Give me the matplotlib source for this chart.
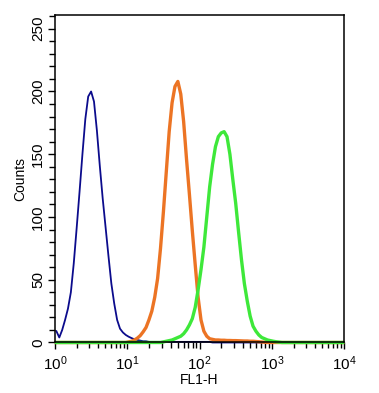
import numpy as np
import matplotlib
matplotlib.use("Agg")
import matplotlib.pyplot as plt
from matplotlib.ticker import LogLocator, MultipleLocator, NullFormatter

plt.rcParams['font.family'] = ['Liberation Sans', 'DejaVu Sans']

# histogram channels: 100 bins over 4 decades (10^0 .. 10^4), 0.04 decade each
n_bins = 100
bin_width = 0.04  # decades

# counts, each series starts at a given bin index
blue_start = 0
blue_counts = [9, 4, 10, 18, 27, 40, 63, 91, 120, 150, 178, 196, 200, 192, 169,
               141, 115, 92, 69, 47, 31, 18, 11, 8, 6, 4.6, 3.5, 2.5, 2, 1.5,
               1, 1, 0.5, 0.5, 0.5, 0.5, 0.5, 0.5, 0.5, 0.5, 0.5, 0.5, 0.5,
               0.5, 0.5, 0.5, 0.5, 0.5, 0.5, 0.5, 0.5, 0.5, 0.5, 0.5]

orange_start = 25
orange_counts = [0.5, 1, 2, 3.5, 5.5, 8.5, 12, 18, 25, 36, 51, 75, 104, 136, 168,
                 191, 204, 208, 198, 176, 146, 118, 89, 62, 36, 18, 9, 5, 3,
                 2.5, 2, 2, 1.8, 1.8, 1.6, 1.6, 1.5, 1.5, 1.4, 1.3, 1.2, 1.2,
                 1, 1, 0.8, 0.6, 0.4, 0.2]

green_start = 37
green_counts = [0.5, 1, 1.5, 2, 3, 4, 5, 7, 10, 14, 19, 28, 42, 58, 76, 100, 124,
                142, 156, 164, 167, 168, 164, 150, 130, 111, 88, 66, 47, 33,
                21, 13, 9, 6, 4, 3, 2, 1.5, 1, 0.6, 0.3]

series = [
    (blue_start, blue_counts, '#0b0b8c', 1.3),
    (orange_start, orange_counts, '#ec7424', 2.4),
    (green_start, green_counts, '#3ee83a', 2.4),
]

# channel centres on the log axis
centres = 10 ** ((np.arange(n_bins) + 0.5) * bin_width)

fig = plt.figure(figsize=(3.79, 3.93), dpi=100)
ax = fig.add_axes([0.145, 0.1285, 0.763, 0.8335])

for start, counts, color, lw in series:
    full = np.zeros(n_bins)
    full[start:start + len(counts)] = counts
    ax.plot(centres, full, color=color, linewidth=lw, clip_on=False,
            solid_joinstyle='round')

ax.set_xscale('log')
ax.set_xlim(1, 1e4)
ax.set_ylim(0, 261)

ax.xaxis.set_major_locator(LogLocator(base=10, numticks=10))
ax.xaxis.set_minor_locator(LogLocator(base=10, subs=np.arange(2, 10), numticks=10))
ax.xaxis.set_minor_formatter(NullFormatter())
ax.yaxis.set_major_locator(MultipleLocator(50))
ax.yaxis.set_minor_locator(MultipleLocator(10))

ax.tick_params(axis='both', which='major', direction='out', length=5, width=1.0,
               labelsize=11, top=False, right=False)
ax.tick_params(axis='both', which='minor', direction='out', length=4, width=1.0,
               top=False, right=False)
ax.tick_params(axis='y', which='major', pad=2)
for lab in ax.get_yticklabels():
    lab.set_rotation(90)
    lab.set_va('center')

for sp in ax.spines.values():
    sp.set_linewidth(1.1)

ax.set_xlabel('FL1-H', fontsize=10, labelpad=0)
ax.set_ylabel('Counts', fontsize=10, labelpad=3)

fig.savefig('out.png', dpi=100)
